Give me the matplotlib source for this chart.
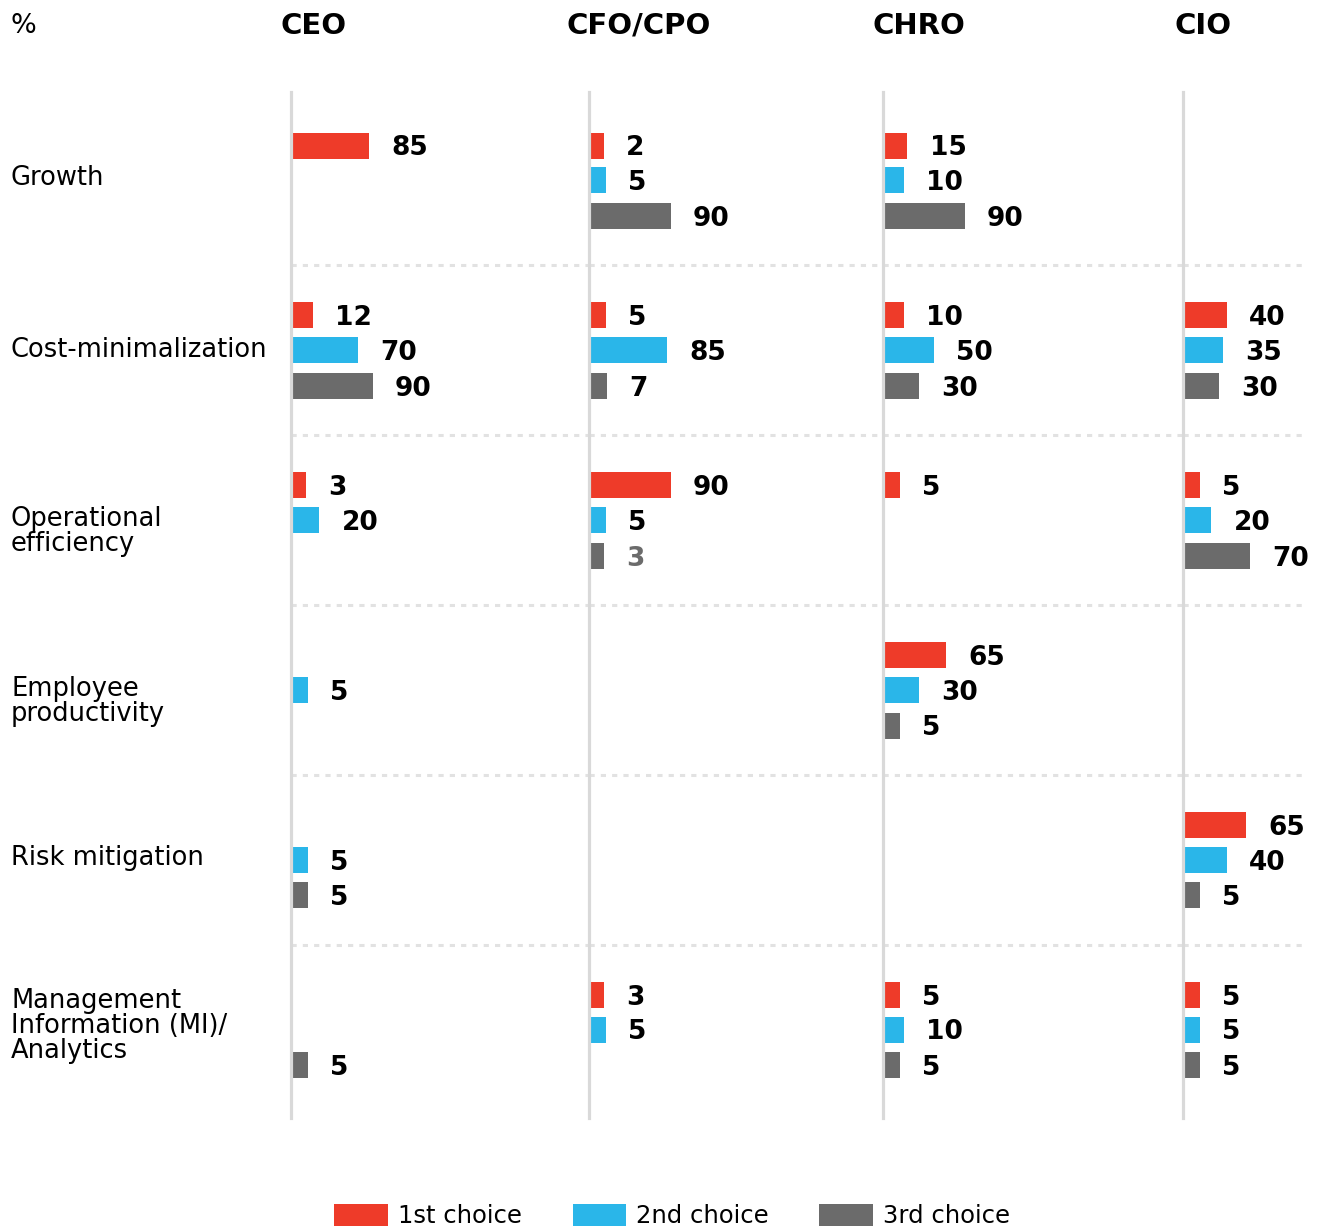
import numpy as np
import matplotlib
matplotlib.use("Agg")
import matplotlib.pyplot as plt
from matplotlib.patches import Patch

nan = np.nan

categories = ["Growth", "Cost-minimalization", "Operational\nefficiency",
              "Employee\nproductivity", "Risk mitigation",
              "Management\nInformation (MI)/\nAnalytics"]
roles = ["CEO", "CFO/CPO", "CHRO", "CIO"]
choices = ["1st choice", "2nd choice", "3rd choice"]

# % per role: 1st, 2nd, 3rd choice for each category
ceo_1 = [85, 12, 3, nan, nan, nan]
ceo_2 = [nan, 70, 20, 5, 5, nan]
ceo_3 = [nan, 90, nan, nan, 5, 5]

cfo_1 = [2, 5, 90, nan, nan, 3]
cfo_2 = [5, 85, 5, nan, nan, 5]
cfo_3 = [90, 7, 3, nan, nan, nan]

chro_1 = [15, 10, 5, 65, nan, 5]
chro_2 = [10, 50, nan, 30, nan, 10]
chro_3 = [90, 30, nan, 5, nan, 5]

cio_1 = [nan, 40, 5, nan, 65, 5]
cio_2 = [nan, 35, 20, nan, 40, 5]
cio_3 = [nan, 30, 70, nan, 5, 5]

data = {
    "CEO": [ceo_1, ceo_2, ceo_3],
    "CFO/CPO": [cfo_1, cfo_2, cfo_3],
    "CHRO": [chro_1, chro_2, chro_3],
    "CIO": [cio_1, cio_2, cio_3],
}

# label printed in grey in the original (role, choice index, category index)
grey_labels = {("CFO/CPO", 2, 2)}

colors = ["#EE3B29", "#2AB6E9", "#6B6B6B"]
plt.rcParams["font.family"] = ["DejaVu Sans"]

W, H = 1323, 1230
fig = plt.figure(figsize=(W / 100, H / 100), dpi=100)

# layout (pixels)
line_x = [291, 589, 883, 1183]
col_w = [298, 294, 300, 124]
top, bottom = 92, 1118
px_per_unit = 0.765
base = 17  # bars start a bit left of zero
slot = [-0.205, 0.0, 0.21]
bar_h = 0.153

for c, role in enumerate(roles):
    ax = fig.add_axes([line_x[c] / W, 1 - bottom / H, col_w[c] / W, (bottom - top) / H])
    ax.set_xlim(-base, -base + col_w[c] / px_per_unit)
    ax.set_ylim(len(categories) - 0.48, -0.52)
    for s in ["top", "right", "bottom"]:
        ax.spines[s].set_visible(False)
    ax.spines["left"].set_color("#D9D9D9")
    ax.spines["left"].set_linewidth(2.3)
    ax.set_xticks([])
    ax.set_yticks([])
    ax.patch.set_alpha(0)

    for k in range(len(categories) - 1):
        ax.axhline(k + 0.5, color="#E2E2E2", lw=2.2, ls=(0, (1.7, 2.0)), zorder=0)

    for j, vals in enumerate(data[role]):
        vals = np.array(vals, dtype=float)
        y = np.arange(len(categories)) + slot[j]
        ok = ~np.isnan(vals)
        ax.barh(y[ok], vals[ok] + base, left=-base, height=bar_h, color=colors[j], zorder=2)
        for i in np.where(ok)[0]:
            col = "#6B6B6B" if (role, j, i) in grey_labels else "black"
            ax.annotate(f"{int(vals[i])}", (vals[i], y[i]), xytext=(16, -2),
                        textcoords="offset points", va="center", ha="left",
                        fontsize=19, fontweight="bold", color=col, clip_on=False)

# row labels (small vertical nudges, in pixels, as in the original layout)
label_nudge = [-3, -1, 11, 11, -2, -4]
for i, cat in enumerate(categories):
    yc = 181 + i * 169.8 + label_nudge[i]
    fig.text(11 / W, 1 - yc / H, cat, fontsize=18.5, va="center", ha="left", linespacing=0.97)

# headers
fig.text(11 / W, 1 - 26 / H, "%", fontsize=19.5, va="center", ha="left")
header_x = [281, 567, 873, 1175]
for c, role in enumerate(roles):
    fig.text(header_x[c] / W, 1 - 26 / H, role, fontsize=21, fontweight="bold",
             va="center", ha="left")

handles = [Patch(facecolor=colors[j], label=choices[j]) for j in range(3)]
fig.legend(handles=handles, loc="center", bbox_to_anchor=(672 / W, 1 - 1216 / H), ncol=3,
           frameon=False, fontsize=17.5, handlelength=2.2, handleheight=1.0,
           handletextpad=0.4, columnspacing=2.1)

fig.savefig("out.png", dpi=100, facecolor="white")
